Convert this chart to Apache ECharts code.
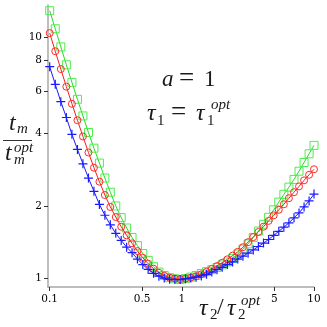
<!DOCTYPE html>
<html><head><meta charset="utf-8">
<script src="https://cdn.jsdelivr.net/npm/echarts@6/dist/echarts.min.js"></script>
<style>html,body{margin:0;padding:0;background:#fff}#c{width:327px;height:327px}</style>
</head><body><div id="c"></div>
<script>
// tau2 / tau2^opt sample points
const xValues = [0.1, 0.1102, 0.1214, 0.1337, 0.1473, 0.1622, 0.1785, 0.1965, 0.2162, 0.2378,
  0.2616, 0.2876, 0.3163, 0.3477, 0.3822, 0.4199, 0.4613, 0.5066, 0.5563, 0.6109,
  0.6706, 0.7357, 0.8078, 0.8858, 0.9716, 1.066, 1.168, 1.281, 1.404, 1.538,
  1.685, 1.845, 2.020, 2.212, 2.421, 2.650, 2.900, 3.172, 3.470, 3.794,
  4.148, 4.534, 4.956, 5.415, 5.916, 6.461, 7.058, 7.703, 8.412, 9.180, 10.0];
// green squares
const greenValues = [12.88, 10.84, 9.12, 7.69, 6.50, 5.53, 4.72, 4.03, 3.47, 3.01,
  2.61, 2.28, 2.00, 1.79, 1.62, 1.48, 1.37, 1.27, 1.19, 1.12,
  1.064, 1.030, 1.009, 0.998, 0.991, 1.0, 1.014, 1.030, 1.050, 1.069,
  1.089, 1.112, 1.140, 1.172, 1.213, 1.265, 1.324, 1.393, 1.479, 1.574,
  1.679, 1.795, 1.928, 2.075, 2.234, 2.393, 2.576, 2.786, 3.027, 3.289, 3.565];
// red circles
const redValues = [10.40, 8.75, 7.38, 6.24, 5.30, 4.53, 3.88, 3.33, 2.88, 2.52,
  2.22, 1.98, 1.80, 1.64, 1.51, 1.40, 1.30, 1.22, 1.153, 1.099,
  1.057, 1.028, 1.009, 1.0, 0.995, 1.0, 1.009, 1.023, 1.042, 1.067,
  1.096, 1.127, 1.164, 1.202, 1.245, 1.291, 1.349, 1.416, 1.486, 1.560,
  1.641, 1.734, 1.828, 1.928, 2.032, 2.153, 2.280, 2.410, 2.553, 2.692, 2.838];
// blue pluses
const blueValues = [7.55, 6.38, 5.41, 4.65, 3.96, 3.43, 2.99, 2.61, 2.30, 2.03,
  1.83, 1.67, 1.54, 1.44, 1.35, 1.28, 1.205, 1.143, 1.091, 1.052,
  1.023, 1.005, 0.993, 0.991, 0.991, 0.998, 1.005, 1.014, 1.026, 1.042,
  1.064, 1.089, 1.114, 1.143, 1.172, 1.205, 1.239, 1.274, 1.315, 1.358,
  1.403, 1.452, 1.510, 1.570, 1.633, 1.702, 1.786, 1.871, 1.982, 2.099, 2.239];
const xTicks = [0.1, 0.5, 1, 5, 10];
const yTicks = [1, 2, 4, 6, 8, 10];

const chart = echarts.init(document.getElementById('c'), null, {renderer: 'canvas'});
const pairs = arr => xValues.map((x, i) => [x, arr[i]]);
const MATH = '"Liberation Serif", "DejaVu Serif", serif';
const txt = (text, x, y, size, italic, extra) => Object.assign({
  type: 'text', z: 100,
  style: {text: text, x: x, y: y, font: (italic ? 'italic ' : '') + size + 'px ' + MATH,
    fill: '#1a1a1a', align: 'left', verticalAlign: 'middle'}
}, extra || {});

const axisCommon = {
  axisLine: {show: true, lineStyle: {color: '#a8a8a8', width: 1.5}},
  axisTick: {show: true, inside: false, length: 4, lineStyle: {color: '#333', width: 1}},
  axisLabel: {fontFamily: 'DejaVu Serif', fontSize: 10.5, color: '#000'},
  splitLine: {show: false},
  minorTick: {show: false}
};

chart.setOption({
  animation: false,
  backgroundColor: '#fff',
  grid: {left: 48, right: 13, top: 5, bottom: 40, containLabel: false},
  xAxis: Object.assign({}, axisCommon, {
    type: 'log', min: 0.0971, max: 10,
    axisTick: Object.assign({}, axisCommon.axisTick, {customValues: xTicks}),
    axisLabel: Object.assign({}, axisCommon.axisLabel, {customValues: xTicks, margin: 7,
      formatter: v => String(+v.toPrecision(3))})
  }),
  yAxis: Object.assign({}, axisCommon, {
    type: 'log', min: 0.923, max: 13.6,
    axisTick: Object.assign({}, axisCommon.axisTick, {customValues: yTicks}),
    axisLabel: Object.assign({}, axisCommon.axisLabel, {customValues: yTicks, margin: 6,
      formatter: v => String(+v.toPrecision(3))})
  }),
  series: [
    {type: 'line', data: pairs(greenValues), symbol: 'rect', symbolSize: 8,
      lineStyle: {color: '#22dd22', width: 1},
      itemStyle: {color: 'rgba(0,0,0,0)', borderColor: '#4dee4d', borderWidth: 1},
      z: 2},
    {type: 'line', data: pairs(redValues), symbol: 'circle', symbolSize: 7,
      lineStyle: {color: '#ff1a1a', width: 1},
      itemStyle: {color: 'rgba(0,0,0,0)', borderColor: '#ff2a2a', borderWidth: 1},
      z: 3},
    {type: 'line', data: pairs(blueValues), symbol: 'path://M0,5L10,5M5,0L5,10', symbolSize: 9,
      lineStyle: {color: '#1a1aff', width: 1},
      itemStyle: {color: 'rgba(0,0,0,0)', borderColor: '#1a1aff', borderWidth: 1.2},
      z: 4}
  ],
  graphic: [
    // a = 1
    txt('a', 162, 80, 23, true),
    txt('=', 179, 79, 27, false),
    txt('1', 204, 80, 23, false),
    // tau1 = tau1^opt
    txt('τ', 147, 114, 24, true),
    txt('1', 157, 121, 15, false),
    txt('=', 171, 113, 27, false),
    txt('τ', 196, 114, 24, true),
    txt('1', 207, 121, 15, false),
    txt('opt', 211, 105, 15, true),
    // x axis title
    txt('τ', 199, 309, 24, true),
    txt('2', 210, 315, 15, false),
    txt('/', 217, 308, 24, false),
    txt('τ', 227, 309, 24, true),
    txt('2', 238, 315, 15, false),
    txt('opt', 241, 301, 15, true),
    // y axis title (fraction)
    txt('t', 9, 124, 24, true),
    txt('m', 17, 129, 15, true),
    {type: 'rect', z: 100, shape: {x: 3, y: 140, width: 29, height: 1}, style: {fill: '#333'}},
    txt('t', 5, 154, 24, true),
    txt('m', 14, 160, 15, true),
    txt('opt', 14, 148, 15, true)
  ]
});
</script></body></html>
